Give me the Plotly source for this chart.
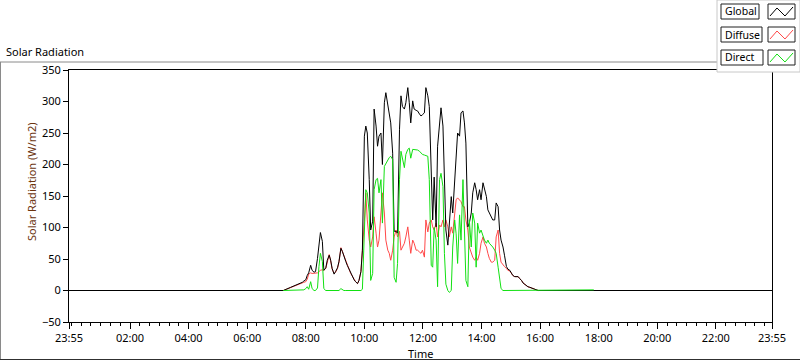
import plotly.graph_objects as go
import pandas as pd

# ---------------- data ----------------
DAY = "2024-06-02"
day_start = "2024-06-01 23:55"
day_end = "2024-06-02 23:55"

times = ["07:29","07:32","07:36","07:39","07:42","07:46","07:49","07:53","07:56","08:00",
"08:03","08:06","08:10","08:13","08:17","08:20","08:24","08:27","08:30","08:34",
"08:37","08:41","08:44","08:48","08:51","08:54","08:58","09:01","09:05","09:08",
"09:12","09:15","09:18","09:22","09:25","09:29","09:32","09:36","09:39","09:42",
"09:46","09:49","09:53","09:56","10:00","10:03","10:06","10:10","10:13","10:17",
"10:20","10:24","10:27","10:30","10:34","10:37","10:41","10:44","10:48","10:51",
"10:54","10:58","11:01","11:05","11:08","11:12","11:15","11:18","11:22","11:25",
"11:29","11:32","11:35","11:39","11:42","11:46","11:49","11:53","11:56","11:59",
"12:03","12:06","12:10","12:13","12:17","12:20","12:23","12:27","12:30","12:34",
"12:37","12:41","12:44","12:47","12:51","12:54","12:58","13:01","13:05","13:08",
"13:11","13:15","13:18","13:22","13:25","13:28","13:32","13:35","13:39","13:42",
"13:46","13:49","13:52","13:56","13:59","14:03","14:06","14:10","14:13","14:16",
"14:20","14:23","14:27","14:30","14:34","14:37","14:40","14:44","14:47","14:51",
"14:54","14:58","15:01","15:04","15:08","15:11","15:15","15:18","15:22","15:25",
"15:28","15:32","15:35","15:39","15:42","15:45","15:49","15:52","15:56"]

global_vals = [5,6,7,8,9,10,12,13,15,17,
24,28,40,32,29,30,51,75,92,78,
32,36,48,56,48,35,26,30,36,46,
67,62,54,46,40,33,27,22,17,14,
11,16,30,64,245,261,250,176,96,110,
288,261,229,245,250,200,298,314,292,282,
266,218,94,94,91,256,309,292,288,298,
322,298,266,301,288,286,285,280,277,279,
282,322,309,292,200,112,180,101,229,261,
290,261,176,96,72,112,149,123,176,229,
250,245,282,285,266,234,101,107,123,155,
171,160,144,160,144,171,160,149,128,123,
117,112,112,139,133,96,80,69,56,38,
34,32,28,24,22,22,22,19,16,12,
10,8,6,5,4,3,2,1,0]

diffuse_vals = [5,6,7,8,9,10,11,12,13,14,
18,26,28,27,27,28,28,30,32,33,
32,35,47,57,47,34,27,29,35,45,
68,62,53,46,40,33,27,22,17,14,
11,16,30,62,110,155,112,80,69,85,
117,91,69,80,117,155,123,80,64,59,
48,64,85,96,85,94,64,69,75,85,
101,80,59,80,75,64,64,61,59,64,
53,112,93,107,112,101,96,107,85,104,
101,112,101,112,101,85,101,91,123,144,
147,144,141,133,133,112,96,69,59,53,
48,53,48,59,75,85,75,69,59,51,
45,45,48,85,96,59,45,40,38,35,
32,31,27,24,22,22,22,19,16,12,
10,8,6,5,4,3,2,1,0]

direct_vals = [0,0,0,0,0,0,0,1,1,3,
6,2,14,3,0,0,4,38,59,46,
3,0,0,0,0,0,0,1,1,0,
3,1,0,0,0,0,0,0,0,0,
0,0,0,2,112,160,155,123,16,27,
160,176,178,155,176,107,197,202,208,211,
213,208,21,13,43,176,221,208,195,216,
224,226,210,224,224,223,223,221,218,216,
215,214,213,176,40,37,100,80,6,176,
186,165,59,10,0,-3,0,69,112,90,
43,120,80,176,112,16,6,112,69,123,
107,37,107,91,96,85,80,75,80,75,
72,69,64,59,37,16,3,0,0,0,
1,1,1,1,1,1,1,1,1,1,
1,1,1,1,1,1,1,1,1]

# night / edge samples
sunrise_time = "07:14"
direct_tail_times = ["16:30", "17:50"]
direct_tail_vals = [1, 1]

tick_labels = ["23:55","02:00","04:00","06:00","08:00","10:00","12:00",
               "14:00","16:00","18:00","20:00","22:00","23:55"]

# ---------------- build series ----------------
def ts(hhmm):
    return pd.Timestamp(f"{DAY} {hhmm}")

day_x = [ts(t) for t in times]
g_x = [pd.Timestamp(day_start), ts(sunrise_time)] + day_x + [pd.Timestamp(day_end)]
g_y = [0, 0] + global_vals + [0]
d_x = [ts(sunrise_time)] + day_x
d_y = [0] + diffuse_vals
r_x = [ts(sunrise_time)] + day_x + [ts(t) for t in direct_tail_times]
r_y = [0] + direct_vals + direct_tail_vals

tickvals = [pd.Timestamp(day_start)] + [ts(t) for t in tick_labels[1:-1]] + [pd.Timestamp(day_end)]

FONT = "Noto Sans"
C_GLOBAL = "#000000"
C_DIFFUSE = "#ff4848"
C_DIRECT = "#12e012"

fig = go.Figure()
fig.add_trace(go.Scatter(x=d_x, y=d_y, mode="lines", name="Diffuse",
                         line=dict(color=C_DIFFUSE, width=1)))
fig.add_trace(go.Scatter(x=g_x, y=g_y, mode="lines", name="Global",
                         line=dict(color=C_GLOBAL, width=1)))
fig.add_trace(go.Scatter(x=r_x, y=r_y, mode="lines", name="Direct",
                         line=dict(color=C_DIRECT, width=1)))

# plot area in pixels: x 69..772, y 70..322
L, R, T, B = 69, 772, 70, 322
W, H = 800, 361
def xp(px):
    return (px - L) / (R - L)
def yp(py):
    return (B - py) / (B - T)

shapes = []
# outer frame
shapes.append(dict(type="line", xref="paper", yref="paper", x0=xp(0), x1=xp(717),
                   y0=yp(62), y1=yp(62), line=dict(color="#8a8a8a", width=1)))
shapes.append(dict(type="line", xref="paper", yref="paper", x0=xp(0.5), x1=xp(0.5),
                   y0=yp(62), y1=yp(360), line=dict(color="#8a8a8a", width=1)))
shapes.append(dict(type="line", xref="paper", yref="paper", x0=xp(0), x1=xp(800),
                   y0=yp(359.5), y1=yp(359.5), line=dict(color="#303030", width=1)))
# legend panel
shapes.append(dict(type="rect", xref="paper", yref="paper", x0=xp(717), x1=xp(800),
                   y0=yp(72), y1=yp(0), fillcolor="white",
                   line=dict(color="#c8c8c8", width=1), layer="above"))

legend_items = [("Global", C_GLOBAL, 4, 759), ("Diffuse", C_DIFFUSE, 27, 762),
                ("Direct", C_DIRECT, 50, 763)]
annotations = []
for name, col, top, right in legend_items:
    shapes.append(dict(type="rect", xref="paper", yref="paper", x0=xp(721), x1=xp(right),
                       y0=yp(top + 15), y1=yp(top), fillcolor="white",
                       line=dict(color="#202020", width=1), layer="above"))
    shapes.append(dict(type="rect", xref="paper", yref="paper", x0=xp(768), x1=xp(795),
                       y0=yp(top + 15), y1=yp(top), fillcolor="white",
                       line=dict(color="#202020", width=1), layer="above"))
    pts = [(770, top + 12), (777, top + 4), (785, top + 12), (793, top + 3)]
    path = "M " + " L ".join(f"{xp(a):.5f},{yp(b):.5f}" for a, b in pts)
    shapes.append(dict(type="path", xref="paper", yref="paper", path=path,
                       line=dict(color=col, width=1), layer="above"))
    annotations.append(dict(text=name, xref="paper", yref="paper", x=xp(722.5),
                            y=yp(top + 7.5), xanchor="left", yanchor="middle",
                            showarrow=False, font=dict(family=FONT, size=10.5, color="black")))

annotations.append(dict(text="Solar Radiation", xref="paper", yref="paper", x=xp(4),
                        y=yp(51), xanchor="left", yanchor="middle", showarrow=False,
                        font=dict(family=FONT, size=11, color="black")))
annotations.append(dict(text="Solar Radiation (W/m2)", xref="paper", yref="paper",
                        x=xp(31), y=yp(182), xanchor="center", yanchor="middle",
                        textangle=-90, showarrow=False,
                        font=dict(family=FONT, size=11, color="#6b3410")))
annotations.append(dict(text="Time", xref="paper", yref="paper", x=0.5, y=yp(353.5),
                        xanchor="center", yanchor="middle", showarrow=False,
                        font=dict(family=FONT, size=11, color="black")))

fig.update_layout(
    width=W, height=H,
    margin=dict(l=L, r=W - R, t=T, b=H - B, pad=0),
    paper_bgcolor="white", plot_bgcolor="white",
    showlegend=False,
    font=dict(family=FONT, size=11, color="black"),
    shapes=shapes, annotations=annotations,
    xaxis=dict(type="date", range=[day_start, day_end], tickmode="array",
               tickvals=tickvals, ticktext=tick_labels, ticks="outside", ticklen=6,
               tickcolor="black", showline=True, linecolor="black", linewidth=1,
               mirror=True, showgrid=False, zeroline=False,
               tickfont=dict(family=FONT, size=11, color="black"),
               minor=dict(dtick=20 * 60 * 1000, tick0=f"{DAY} 00:00", ticks="outside",
                          ticklen=3, tickcolor="black", showgrid=False)),
    yaxis=dict(range=[-50, 350], tickmode="linear", tick0=0, dtick=50,
               ticks="outside", ticklen=5, tickcolor="black", showline=True,
               linecolor="black", linewidth=1, mirror=True, showgrid=False,
               zeroline=False, tickfont=dict(family=FONT, size=11, color="black")),
)

fig.write_html("out.html", config={"displayModeBar": False},
               post_script="document.body.style.margin='0';document.body.style.overflow='hidden';")
